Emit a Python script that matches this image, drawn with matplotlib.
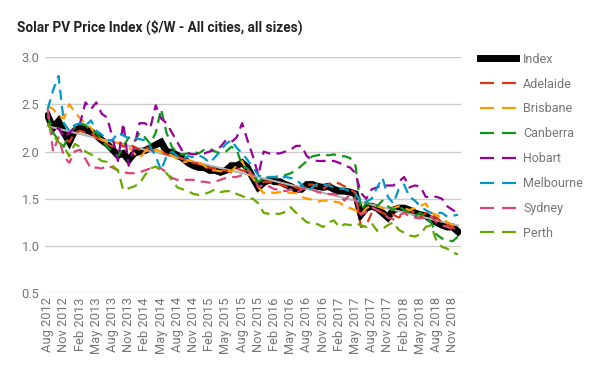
import numpy as np
import matplotlib
matplotlib.use("Agg")
import matplotlib.pyplot as plt

# Months Aug 2012 .. Dec 2018 (77 categories); ticks every quarter
tick_labels = ["Aug 2012", "Nov 2012", "Feb 2013", "May 2013", "Aug 2013", "Nov 2013",
               "Feb 2014", "May 2014", "Aug 2014", "Nov 2014", "Feb 2015", "May 2015",
               "Aug 2015", "Nov 2015", "Feb 2016", "May 2016", "Aug 2016", "Nov 2016",
               "Feb 2017", "May 2017", "Aug 2017", "Nov 2017", "Feb 2018", "May 2018",
               "Aug 2018", "Nov 2018"]

index_vals = [2.38, 2.25, 2.32, 2.20, 2.10,
              2.22, 2.25, 2.23, 2.21, 2.17, 2.12, 2.08, 2.02, 1.96, 1.98, 1.91, 1.98,
              2.00, 2.01, 2.04, 2.07, 2.10, 2.00, 1.99, 1.96, 1.93, 1.88, 1.85, 1.83,
              1.83, 1.80, 1.80, 1.78, 1.80, 1.85, 1.85, 1.88, 1.83, 1.72, 1.62, 1.67,
              1.70, 1.68, 1.68, 1.65, 1.63, 1.60, 1.60, 1.65, 1.65, 1.63, 1.62, 1.63,
              1.60, 1.58, 1.58, 1.57, 1.55, 1.33, 1.40, 1.42, 1.40, 1.35, 1.30, 1.38,
              1.40, 1.40, 1.38, 1.35, 1.33, 1.32, 1.28, 1.25, 1.22, 1.20, 1.20, 1.15]

adelaide = [2.30, 2.20, 2.25, 2.15, 2.10,
            2.20, 2.22, 2.20, 2.20, 2.15, 2.10, 2.08, 2.05, 2.10, 2.05, 2.08, 2.05,
            2.02, 2.05, 2.02, 2.00, 2.00, 1.97, 1.95, 1.95, 1.92, 1.90, 1.88, 1.87,
            1.83, 1.83, 1.82, 1.80, 1.80, 1.78, 1.82, 1.80, 1.78, 1.72, 1.65, 1.68,
            1.68, 1.66, 1.65, 1.63, 1.62, 1.62, 1.60, 1.65, 1.65, 1.63, 1.60, 1.65,
            1.68, 1.66, 1.63, 1.60, 1.56, 1.20, 1.22, 1.35, 1.38, 1.35, 1.32, 1.33,
            1.30, 1.35, 1.38, 1.35, 1.30, 1.35, 1.33, 1.30, 1.25, 1.22, 1.20, 1.15]

brisbane = [2.48, 2.45, 2.38, 2.35, 2.50,
            2.42, 2.35, 2.30, 2.25, 2.17, 2.12, 2.10, 2.10, 2.09, 2.08, 2.05, 1.98,
            1.93, 2.00, 2.02, 2.02, 2.00, 1.98, 1.96, 1.92, 1.88, 1.90, 1.90, 1.88,
            1.85, 1.80, 1.80, 1.79, 1.80, 1.79, 1.85, 1.90, 1.78, 1.72, 1.62, 1.56,
            1.57, 1.56, 1.57, 1.57, 1.56, 1.56, 1.52, 1.50, 1.49, 1.47, 1.48, 1.48,
            1.47, 1.46, 1.42, 1.40, 1.38, 1.33, 1.40, 1.43, 1.42, 1.40, 1.38, 1.40,
            1.42, 1.40, 1.38, 1.40, 1.42, 1.45, 1.35, 1.33, 1.30, 1.25, 1.22, 1.25]

canberra = [2.38, 2.20, 2.12, 2.05, 2.20,
            2.25, 2.30, 2.28, 2.22, 2.20, 2.12, 2.05, 2.00, 1.95, 2.05, 2.15, 2.10,
            2.20, 2.15, 2.08, 2.20, 2.45, 2.20, 2.05, 1.98, 1.97, 1.98, 2.00, 1.98,
            2.02, 2.03, 2.00, 1.98, 2.00, 2.05, 2.02, 1.85, 1.82, 1.75, 1.68, 1.72,
            1.73, 1.73, 1.74, 1.75, 1.77, 1.80, 1.85, 1.90, 1.95, 1.96, 1.97, 1.96,
            1.97, 1.95, 1.95, 1.93, 1.85, 1.38, 1.45, 1.45, 1.42, 1.48, 1.42, 1.38,
            1.42, 1.38, 1.35, 1.32, 1.35, 1.30, 1.25, 1.12, 1.08, 1.06, 1.05, 1.10]

hobart = [2.30, 2.20, 2.25, 2.15, 2.20,
          2.25, 2.30, 2.52, 2.45, 2.52, 2.40, 2.36, 2.15, 1.90, 2.30, 1.85, 2.05,
          2.30, 2.30, 2.25, 2.49, 2.35, 2.30, 2.20, 2.10, 2.00, 1.98, 1.97, 1.98,
          1.98, 2.00, 2.02, 2.05, 2.12, 2.10, 2.15, 2.30, 2.12, 1.95, 1.75, 2.00,
          1.98, 1.98, 1.98, 2.00, 2.02, 2.06, 2.06, 1.95, 1.91, 1.90, 1.90, 1.90,
          1.90, 1.88, 1.85, 1.83, 1.77, 1.56, 1.50, 1.60, 1.62, 1.64, 1.64, 1.64,
          1.68, 1.73, 1.62, 1.64, 1.63, 1.52, 1.52, 1.52, 1.50, 1.42, 1.38, 1.35]

melbourne = [2.45, 2.65, 2.80, 2.30, 2.22,
             2.28, 2.30, 2.27, 2.33, 2.22, 2.18, 2.12, 2.12, 2.20, 2.17, 2.14, 2.14,
             2.13, 2.12, 2.05, 1.95, 1.80, 1.95, 2.00, 1.95, 1.93, 1.95, 1.94, 1.96,
             1.93, 1.88, 1.94, 2.01, 2.08, 2.12, 2.04, 1.98, 1.91, 1.83, 1.75, 1.72,
             1.73, 1.73, 1.72, 1.73, 1.72, 1.70, 1.65, 1.58, 1.62, 1.66, 1.65, 1.64,
             1.62, 1.61, 1.60, 1.58, 1.56, 1.45, 1.47, 1.50, 1.62, 1.72, 1.52, 1.45,
             1.60, 1.65, 1.52, 1.48, 1.42, 1.38, 1.35, 1.35, 1.35, 1.31, 1.32, 1.33]

sydney = [2.45, 2.00, 2.15, 1.95, 1.88,
          2.00, 2.02, 1.92, 1.82, 1.83, 1.82, 1.85, 1.83, 1.80, 1.78, 1.77, 1.77,
          1.78, 1.80, 1.82, 1.83, 1.82, 1.78, 1.72, 1.70, 1.70, 1.70, 1.70, 1.68,
          1.68, 1.67, 1.68, 1.70, 1.72, 1.73, 1.73, 1.75, 1.80, 1.75, 1.62, 1.65,
          1.63, 1.60, 1.60, 1.58, 1.60, 1.56, 1.60, 1.62, 1.60, 1.57, 1.56, 1.55,
          1.55, 1.53, 1.48, 1.55, 1.49, 1.33, 1.36, 1.41, 1.38, 1.35, 1.30, 1.28,
          1.32, 1.35, 1.31, 1.30, 1.29, 1.30, 1.31, 1.25, 1.22, 1.20, 1.18, 1.16]

perth = [2.30, 2.17, 2.10, 2.05, 1.95,
         2.08, 2.05, 2.00, 1.97, 1.94, 1.90, 1.89, 1.85, 1.80, 1.59, 1.61, 1.63,
         1.66, 1.75, 1.82, 1.84, 1.80, 1.77, 1.70, 1.62, 1.60, 1.58, 1.55, 1.54,
         1.55, 1.57, 1.60, 1.57, 1.58, 1.58, 1.55, 1.53, 1.50, 1.50, 1.45, 1.35,
         1.34, 1.34, 1.34, 1.36, 1.41, 1.35, 1.30, 1.25, 1.24, 1.23, 1.20, 1.25,
         1.27, 1.20, 1.23, 1.22, 1.24, 1.22, 1.20, 1.24, 1.16, 1.18, 1.22, 1.25,
         1.17, 1.14, 1.11, 1.10, 1.12, 1.20, 1.22, 1.05, 0.99, 0.97, 0.93, 0.91]

city_names = ["Adelaide", "Brisbane", "Canberra", "Hobart", "Melbourne", "Sydney", "Perth"]
city_values = [adelaide, brisbane, canberra, hobart, melbourne, sydney, perth]
city_colors = ["#dc3912", "#ff9900", "#109618", "#990099", "#0099c6", "#dd4477", "#66aa00"]

plt.rcParams['font.family'] = ['Roboto', 'DejaVu Sans']

fig = plt.figure(figsize=(6.0, 3.71), dpi=100)
ax = fig.add_axes([0.075, 0.210, 0.693, 0.636])

x = np.arange(len(index_vals))
ax.plot(x, index_vals, color="black", lw=5.0, solid_joinstyle="miter", label="Index", zorder=3)

# linear trendline of the index
coef = np.polyfit(x, index_vals, 1)
ax.plot(x, np.polyval(coef, x), color="#b4b4b4", lw=1.5, zorder=4)

for name, vals, col in zip(city_names, city_values, city_colors):
    ax.plot(x, vals, color=col, lw=1.6, dashes=(4.5, 2.8), label=name, zorder=5)

ax.set_xlim(-0.5, len(index_vals) - 0.5)
ax.set_ylim(0.5, 3.0)
ax.set_yticks(np.arange(0.5, 3.01, 0.5))
ax.set_yticklabels([f"{v:.1f}" for v in np.arange(0.5, 3.01, 0.5)])
ax.set_xticks(np.arange(0, len(index_vals), 3))
ax.set_xticklabels(tick_labels, rotation=90)
ax.grid(axis="y", color="#cccccc", lw=1.0)
ax.set_axisbelow(True)
for s in ax.spines.values():
    s.set_visible(False)
ax.tick_params(axis="both", length=0, colors="#757575", labelsize=9.3)
ax.tick_params(axis="y", pad=4)
ax.tick_params(axis="x", pad=3)

fig.text(0.028, 0.925, "Solar PV Price Index ($/W - All cities, all sizes)",
         fontsize=9.8, fontweight="bold", color="#222222", va="center")

leg = fig.legend(loc="upper left", bbox_to_anchor=(0.800, 0.858), frameon=False,
                 fontsize=9, handlelength=2.9, handletextpad=0.55, labelspacing=0.95,
                 borderaxespad=0, borderpad=0)
for t in leg.get_texts():
    t.set_color("#757575")
for ln in leg.get_lines()[1:]:
    ln.set_dashes((6.3, 3.6))

fig.savefig("out.png", dpi=100)
